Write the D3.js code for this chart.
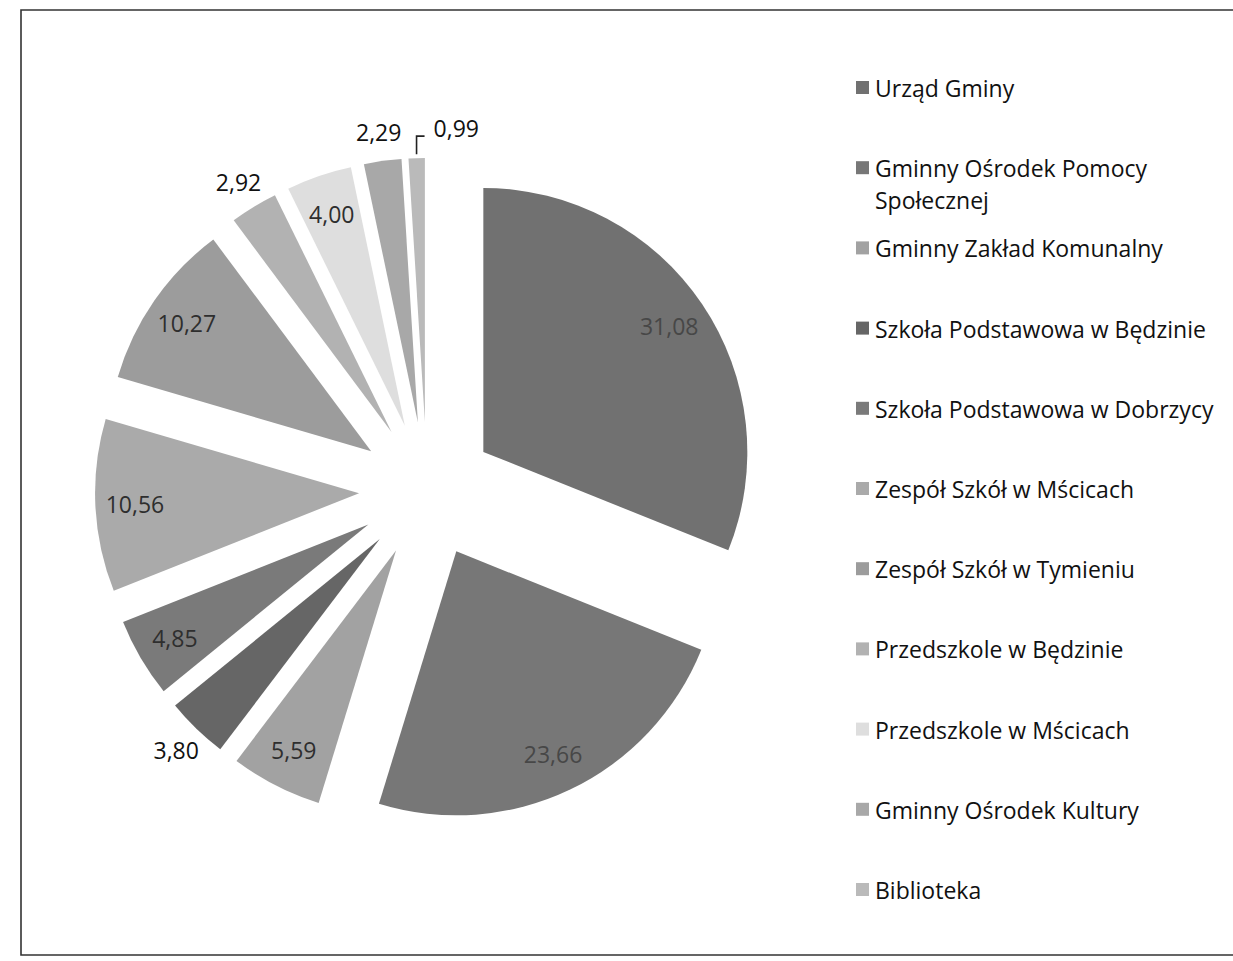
<!DOCTYPE html>
<html>
<head>
<meta charset="utf-8">
<script src="https://cdn.jsdelivr.net/npm/d3@7"></script>
<style>
  html, body { margin: 0; padding: 0; background: #fff; }
  svg { display: block; }
</style>
</head>
<body>
<svg id="chart" width="1233" height="961"></svg>
<script>
// ---- data ----
const categories = [
  "Urząd Gminy",
  "Gminny Ośrodek Pomocy Społecznej",
  "Gminny Zakład Komunalny",
  "Szkoła Podstawowa w Będzinie",
  "Szkoła Podstawowa w Dobrzycy",
  "Zespół Szkół w Mścicach",
  "Zespół Szkół w Tymieniu",
  "Przedszkole w Będzinie",
  "Przedszkole w Mścicach",
  "Gminny Ośrodek Kultury",
  "Biblioteka"
];
const values = [31.08, 23.66, 5.59, 3.80, 4.85, 10.56, 10.27, 2.92, 4.00, 2.29, 0.99];
const palette = ["#717171", "#777777", "#a2a2a2", "#666666", "#7a7a7a", "#aaaaaa",
                 "#9c9c9c", "#b2b2b2", "#dedede", "#a8a8a8", "#bababa"];

// ---- layout ----
const svg = d3.select("#chart");
const W = 1233, H = 961;
const FONT = "'Open Sans', 'DejaVu Sans', sans-serif";

// frame (top, left, bottom lines as in the scanned page)
const frame = svg.append("g").attr("fill", "none").attr("stroke", "#333").attr("stroke-width", 1.6);
frame.append("path").attr("d", `M${W},10 L21,10 L21,955 L${W},955`);

const cx = 427, cy = 490, R = 264, explode = 68;

const pie = d3.pie().sort(null).value(d => d).startAngle(0).endAngle(2 * Math.PI);
const arcs = pie(values);
const arc = d3.arc().innerRadius(0).outerRadius(R);

const fmt = v => d3.format(".2f")(v).replace(".", ",");

const g = svg.append("g").attr("transform", `translate(${cx},${cy})`);

const slices = g.selectAll("g.slice").data(arcs).enter().append("g")
  .attr("class", "slice")
  .attr("transform", d => {
    const m = (d.startAngle + d.endAngle) / 2;
    return `translate(${Math.sin(m) * explode},${-Math.cos(m) * explode})`;
  });

slices.append("path")
  .attr("d", arc)
  .attr("fill", (d, i) => palette[i]);

// data labels
slices.each(function (d, i) {
  const m = (d.startAngle + d.endAngle) / 2;
  const sx = Math.sin(m), sy = -Math.cos(m);
  const sel = d3.select(this);
  const v = d.data;
  if (v < 1.5) {
    // leader-line label
    const p0 = [sx * (R + 4), sy * (R + 4)];
    const p1 = [p0[0], p0[1] - 18];
    const p2 = [p1[0] + 8, p1[1]];
    sel.append("path")
      .attr("d", `M${p0[0]},${p0[1]} L${p1[0]},${p1[1]} L${p2[0]},${p2[1]}`)
      .attr("fill", "none").attr("stroke", "#222").attr("stroke-width", 1.6);
    sel.append("text")
      .attr("x", p2[0] + 9).attr("y", p2[1] - 8)
      .attr("dominant-baseline", "central")
      .attr("font-family", FONT).attr("font-size", 23)
      .attr("fill", "#111")
      .text(fmt(v));
  } else {
    const outside = v < 3.9;
    const lr = outside ? R * 1.11 : R * 0.85;
    sel.append("text")
      .attr("x", sx * lr).attr("y", sy * lr)
      .attr("text-anchor", "middle")
      .attr("dominant-baseline", "central")
      .attr("font-family", FONT).attr("font-size", 23)
      .attr("fill", outside ? "#111" : (v > 20 ? "#474747" : "#2e2e2e"))
      .text(fmt(v));
  }
});

// legend
const legendX = 856;
const y = d3.scalePoint().domain(categories).range([88, 890]);
const maxW = 360;
const leg = svg.append("g").attr("font-family", FONT).attr("font-size", 23).attr("fill", "#111");

categories.forEach((name, i) => {
  const row = leg.append("g").attr("transform", `translate(${legendX},${y(name)})`);
  row.append("rect").attr("x", 0).attr("y", -7).attr("width", 13).attr("height", 13)
    .attr("fill", palette[i]);
  const t = row.append("text").attr("x", 19).attr("y", 0).attr("dominant-baseline", "central");
  // simple word wrap
  const words = name.split(" ");
  let line = [];
  let ts = t.append("tspan").attr("x", 19).attr("dy", 0);
  words.forEach(w => {
    line.push(w);
    ts.text(line.join(" "));
    if (ts.node().getComputedTextLength() > maxW && line.length > 1) {
      line.pop();
      ts.text(line.join(" "));
      line = [w];
      ts = t.append("tspan").attr("x", 19).attr("dy", 32).text(w);
    }
  });
});
</script>
</body>
</html>
